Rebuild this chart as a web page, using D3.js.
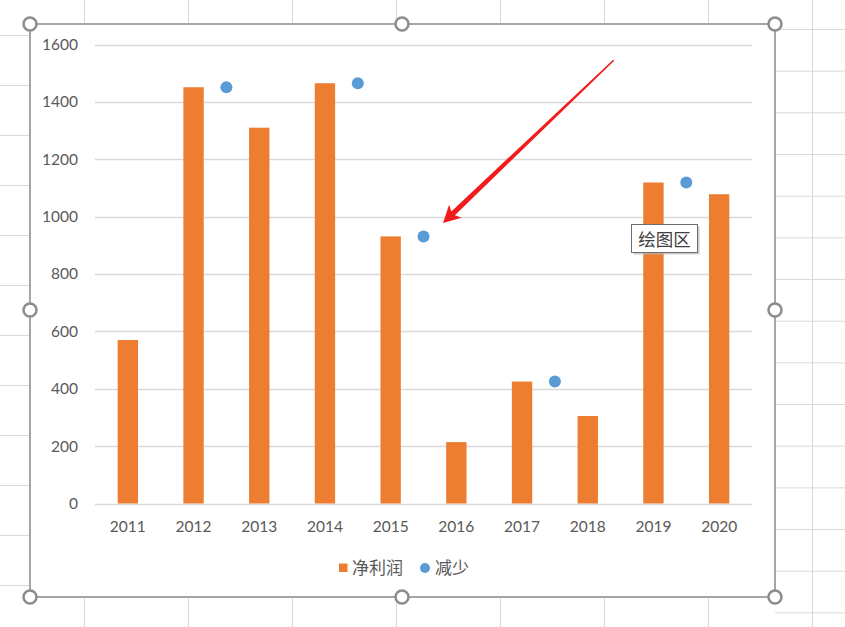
<!DOCTYPE html>
<html>
<head>
<meta charset="utf-8">
<script src="https://cdn.jsdelivr.net/npm/d3@7"></script>
<style>
html,body{margin:0;padding:0;background:#fff;}
svg{display:block;}
</style>
</head>
<body>
<svg id="c" width="845" height="627"></svg>
<script>
// ---- data ----
const years = ["2011","2012","2013","2014","2015","2016","2017","2018","2019","2020"];
const netProfit = [570, 1451, 1310, 1465, 931, 214, 425, 305, 1119, 1078];
const dropX = [2, 4, 5, 7, 9];            // scatter x values (category units)
const dropY = [1451, 1465, 931, 425, 1119];
const yTicks = [0, 200, 400, 600, 800, 1000, 1200, 1400, 1600];
const seriesNames = ["净利润", "减少"];

const ORANGE = "#ED7D31", BLUE = "#5B9BD5";
const svg = d3.select("#c");

// ---- spreadsheet background grid ----
const bg = svg.append("g").attr("stroke", "#d9d9d9").attr("stroke-width", 1);
d3.range(84.5, 845, 104).forEach(x => {
  bg.append("line").attr("x1", x).attr("x2", x).attr("y1", 0).attr("y2", 24);
  bg.append("line").attr("x1", x).attr("x2", x).attr("y1", 597).attr("y2", 627);
});
d3.range(35.5, 627, 50).forEach(y => {
  bg.append("line").attr("x1", 0).attr("x2", 30).attr("y1", y).attr("y2", y);
});
d3.range(29.5, 627, 41.67).forEach(y => {
  bg.append("line").attr("x1", 775).attr("x2", 845).attr("y1", y).attr("y2", y);
});
bg.append("line").attr("x1", 812.5).attr("x2", 812.5).attr("y1", 0).attr("y2", 627);

// ---- chart area ----
svg.append("rect").attr("x", 30).attr("y", 24).attr("width", 745).attr("height", 573)
  .attr("fill", "#fff");

// scales
const x = d3.scaleBand().domain(years).range([95, 752]).paddingInner(0).paddingOuter(0);
const xLin = d3.scaleLinear().domain([0, years.length]).range([95, 752]);
const y = d3.scaleLinear().domain([0, 1600]).range([503.5, 44.5]);
const barW = x.bandwidth() * 0.31;

// gridlines
svg.append("g").selectAll("line").data(yTicks).join("line")
  .attr("x1", 95).attr("x2", 752)
  .attr("y1", d => Math.round(y(d)) + 0.5).attr("y2", d => Math.round(y(d)) + 0.5)
  .attr("stroke", "#d9d9d9").attr("stroke-width", 1.3);

// y axis labels
const yAxis = d3.axisLeft(y).tickValues(yTicks).tickFormat(d3.format("d")).tickSize(0).tickPadding(0);
const ya = svg.append("g").attr("transform", "translate(78,0)").call(yAxis);
ya.select(".domain").remove();
ya.selectAll("text").attr("font-family", "Lato, 'Open Sans', sans-serif")
  .attr("font-size", 15.5).attr("fill", "#595959");

// x axis labels
const xAxis = d3.axisBottom(x).tickSize(0).tickPadding(0);
const xa = svg.append("g").attr("transform", "translate(0,520.5)").call(xAxis);
xa.select(".domain").remove();
xa.selectAll("text").attr("font-family", "Lato, 'Open Sans', sans-serif")
  .attr("font-size", 15.5).attr("fill", "#595959");

// bars
svg.append("g").selectAll("rect").data(years).join("rect")
  .attr("x", d => x(d) + x.bandwidth() / 2 - barW / 2)
  .attr("width", barW)
  .attr("y", (d, i) => y(netProfit[i]))
  .attr("height", (d, i) => y(0) - y(netProfit[i]))
  .attr("fill", ORANGE);

// scatter points
svg.append("g").selectAll("circle").data(dropX).join("circle")
  .attr("cx", d => xLin(d))
  .attr("cy", (d, i) => y(dropY[i]))
  .attr("r", 6)
  .attr("fill", BLUE);

// legend
const lg = svg.append("g").attr("font-family", "'Noto Sans CJK SC', sans-serif")
  .attr("font-size", 17).attr("fill", "#595959");
lg.append("rect").attr("x", 339).attr("y", 563.5).attr("width", 8.5).attr("height", 8.5).attr("fill", ORANGE);
lg.append("text").attr("x", 352).attr("y", 574).text(seriesNames[0]);
lg.append("circle").attr("cx", 425).attr("cy", 568).attr("r", 5).attr("fill", BLUE);
lg.append("text").attr("x", 435).attr("y", 574).text(seriesNames[1]);

// red arrow annotation pointing at the 2015 drop point
(function () {
  const px = xLin(dropX[2]), py = y(dropY[2]);
  const tip = [px + 19.5, py - 13.5];
  const tail = [tip[0] + 170.7, tip[1] - 162.7];
  const dx = tip[0] - tail[0], dy = tip[1] - tail[1];
  const L = Math.hypot(dx, dy), ux = dx / L, uy = dy / L, nx = -uy, ny = ux;
  const headLen = 17, headHalf = 9, neckHalf = 2.6, tailHalf = 0.8, notch = 3;
  const base = [tip[0] - ux * headLen, tip[1] - uy * headLen];
  const neck = [tip[0] - ux * (headLen - notch), tip[1] - uy * (headLen - notch)];
  const pts = [
    [tail[0] + nx * tailHalf, tail[1] + ny * tailHalf],
    [neck[0] + nx * neckHalf, neck[1] + ny * neckHalf],
    [base[0] + nx * headHalf, base[1] + ny * headHalf],
    tip,
    [base[0] - nx * headHalf, base[1] - ny * headHalf],
    [neck[0] - nx * neckHalf, neck[1] - ny * neckHalf],
    [tail[0] - nx * tailHalf, tail[1] - ny * tailHalf]
  ];
  svg.append("path").attr("d", d3.line()(pts) + "Z").attr("fill", "#f21c1c");
})();

// "绘图区" tooltip
const tt = svg.append("g");
tt.append("rect").attr("x", 633.5).attr("y", 226.5).attr("width", 66).attr("height", 28)
  .attr("fill", "#b8b8b8").attr("opacity", 0.7);
tt.append("rect").attr("x", 631.5).attr("y", 224.5).attr("width", 66).attr("height", 28)
  .attr("fill", "#fff").attr("stroke", "#6e6e6e").attr("stroke-width", 1);
tt.append("text").attr("x", 664.5).attr("y", 245.5).attr("text-anchor", "middle")
  .attr("font-family", "'Noto Sans CJK SC', sans-serif").attr("font-size", 17.5)
  .attr("fill", "#404040").text("绘图区");

// chart frame with selection handles
svg.append("rect").attr("x", 30).attr("y", 24).attr("width", 745).attr("height", 573)
  .attr("fill", "none").attr("stroke", "#a6a6a6").attr("stroke-width", 2);
const handles = [[30,24],[402,24],[775,24],[30,310],[775,310],[30,597],[402,597],[775,597]];
svg.append("g").selectAll("circle").data(handles).join("circle")
  .attr("cx", d => d[0]).attr("cy", d => d[1]).attr("r", 6.5)
  .attr("fill", "#fff").attr("stroke", "#8c8c8c").attr("stroke-width", 2.5);
</script>
</body>
</html>
